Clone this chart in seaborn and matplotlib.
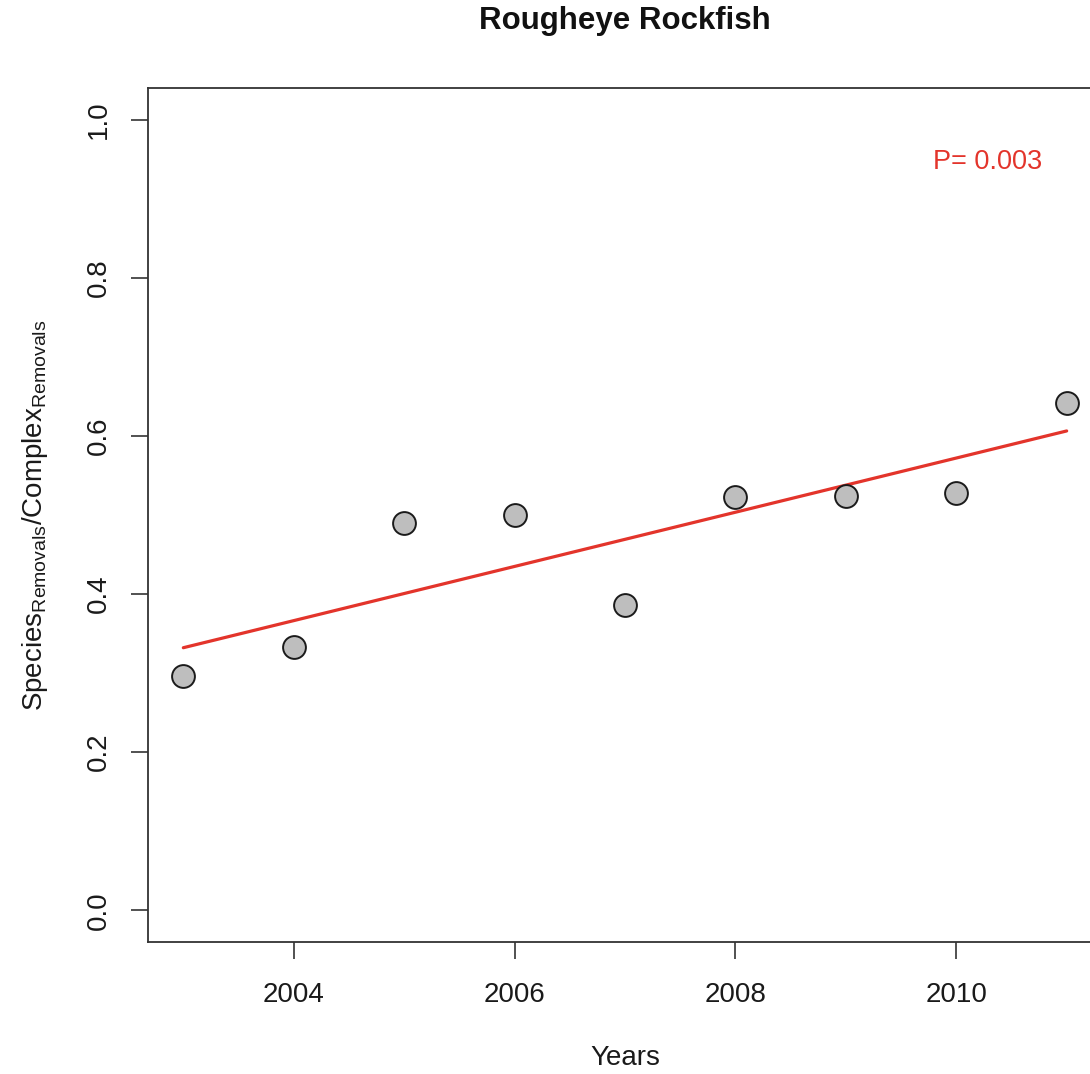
import matplotlib
matplotlib.use("Agg")
import matplotlib.pyplot as plt
import seaborn as sns
import pandas as pd

years = [2003, 2004, 2005, 2006, 2007, 2008, 2009, 2010, 2011]
ratio = [0.297, 0.333, 0.490, 0.500, 0.386, 0.523, 0.524, 0.528, 0.642]
title = "Rougheye Rockfish"
p_label = "P= 0.003"
x_ticks = [2004, 2006, 2008, 2010]
y_ticks = [0.0, 0.2, 0.4, 0.6, 0.8, 1.0]

df = pd.DataFrame({"year": years, "ratio": ratio})

sns.set_style("white")
plt.rcParams["font.family"] = ["Liberation Sans", "DejaVu Sans"]
plt.rcParams["mathtext.fontset"] = "custom"
plt.rcParams["mathtext.rm"] = "Liberation Sans"
plt.rcParams["mathtext.it"] = "Liberation Sans"

fig = plt.figure(figsize=(10.9, 10.74), dpi=100)
ax = fig.add_axes([148 / 1090, 132 / 1074, (1102 - 148) / 1090, (942 - 88) / 1074])

sns.regplot(data=df, x="year", y="ratio", ax=ax, scatter=False, ci=None,
            line_kws={"color": "#E3342B", "lw": 2.3, "zorder": 2})
sns.scatterplot(data=df, x="year", y="ratio", ax=ax, s=270, color="#BEBEBE",
                edgecolor="#1a1a1a", linewidth=1.4, zorder=3)

ax.set_xlim(2002.68, 2011.32)
ax.set_ylim(-0.04, 1.04)
ax.set_xticks(x_ticks)
ax.set_xticklabels([str(t) for t in x_ticks])
ax.set_yticks(y_ticks)
ax.set_yticklabels([f"{t:.1f}" for t in y_ticks], rotation=90, va="center")
ax.tick_params(axis="both", direction="out", length=12, width=1.2, color="#333333",
               labelsize=20, labelcolor="#1a1a1a", left=True, bottom=True)
ax.tick_params(axis="x", pad=17)
ax.tick_params(axis="y", pad=14)
for s in ax.spines.values():
    s.set_linewidth(1.3)
    s.set_color("#333333")

ax.set_xlabel("")
ax.set_ylabel(r"Species$_{\mathrm{Removals}}$/Complex$_{\mathrm{Removals}}$",
              fontsize=20, color="#1a1a1a", labelpad=26)
fig.text(625 / 1090, 1 - 1058 / 1074, "Years", ha="center", va="center",
         fontsize=20, color="#1a1a1a")
fig.text(625 / 1090, 1 - 21 / 1074, title, ha="center", va="center", fontsize=22.5,
         fontweight="bold", color="#111111")
ax.text(2010.28, 0.946, p_label, color="#E3342B", fontsize=19.5, ha="center", va="center")

fig.savefig("out.png", dpi=100)
